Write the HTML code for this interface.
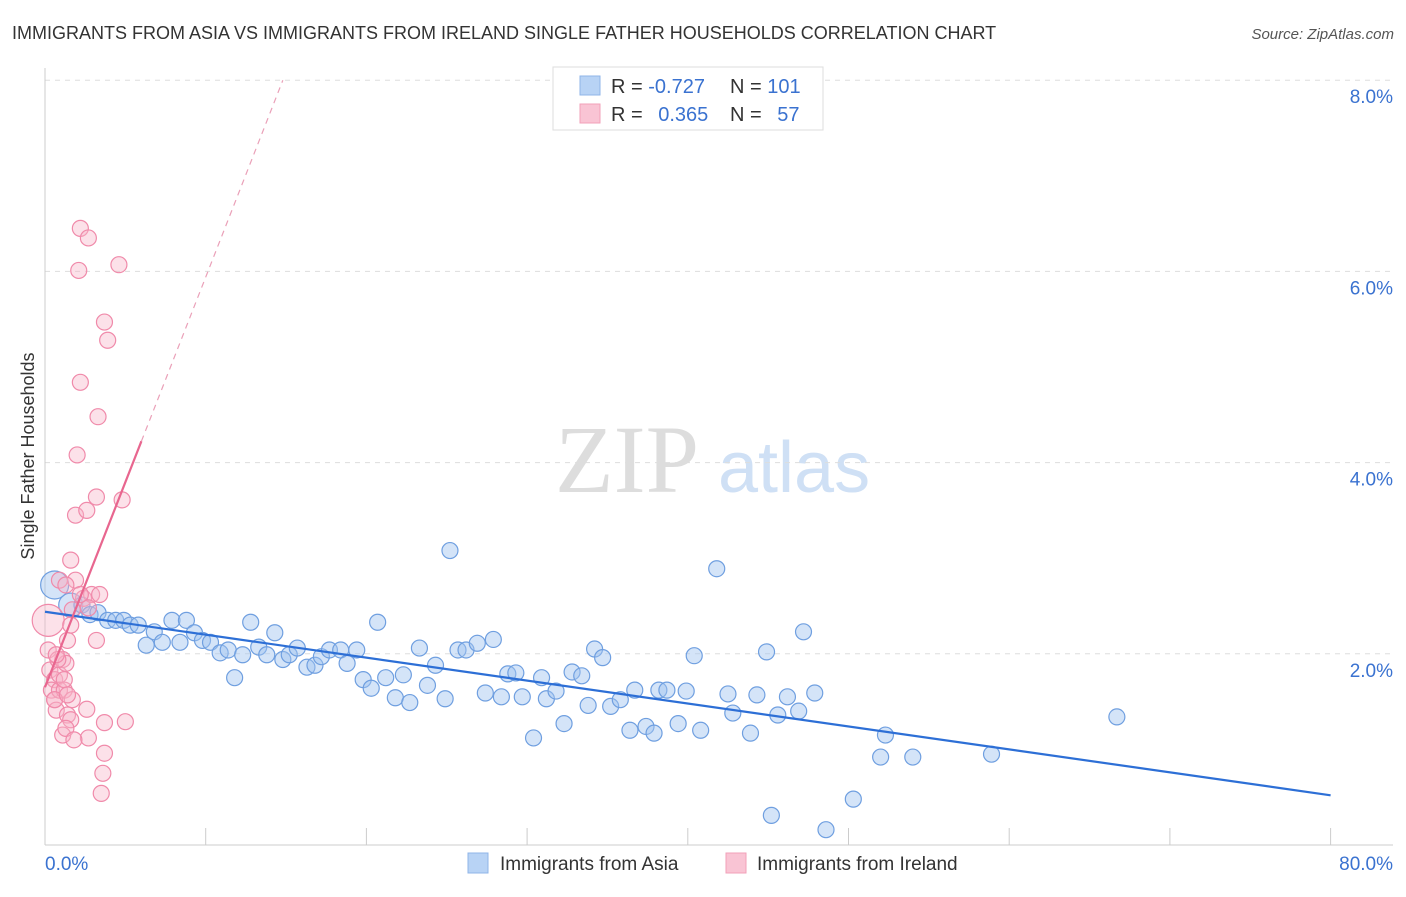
<!DOCTYPE html>
<html><head><meta charset="utf-8"><style>
body{margin:0;background:#fff;font-family:"Liberation Sans",sans-serif}
svg text{font-family:"Liberation Sans",sans-serif}
</style></head><body>
<svg id="chart" width="1406" height="892" xmlns="http://www.w3.org/2000/svg">
<text x="12" y="39" font-size="18" fill="#333">IMMIGRANTS FROM ASIA VS IMMIGRANTS FROM IRELAND SINGLE FATHER HOUSEHOLDS CORRELATION CHART</text>
<text x="1394" y="39" font-size="15" fill="#555" text-anchor="end" font-style="italic">Source: ZipAtlas.com</text>
<g>
<text x="555" y="492" font-size="96" fill="#ddd" font-family="Liberation Serif" style="font-family:'Liberation Serif',serif">ZIP</text>
<text x="718" y="492" font-size="72" fill="#cfe0f5">atlas</text>
</g>
<g id="grid"></g>
<g id="axes"></g>
<g id="marks"></g>
<text transform="translate(34,456) rotate(-90)" font-size="18" fill="#333" text-anchor="middle">Single Father Households</text>
<g>
<rect x="553" y="67" width="270" height="63" fill="#fff" stroke="#ddd"/>
<rect x="580" y="76" width="20" height="19" fill="#b8d3f5" stroke="#8fb5e8"/>
<rect x="580" y="104" width="20" height="19" fill="#f9c4d4" stroke="#f2a0b9"/>
<text x="611" y="93" font-size="20" fill="#333">R = <tspan fill="#3a72d0">-0.727</tspan></text>
<text x="730" y="93" font-size="20" fill="#333">N = <tspan fill="#3a72d0">101</tspan></text>
<text x="611" y="121" font-size="20" fill="#333">R = <tspan fill="#3a72d0" dx="10">0.365</tspan></text>
<text x="730" y="121" font-size="20" fill="#333">N = <tspan fill="#3a72d0" dx="10">57</tspan></text>
</g>
<g>
<rect x="468" y="853" width="20" height="20" fill="#b8d3f5" stroke="#8fb5e8"/>
<text x="500" y="870" font-size="19" fill="#333">Immigrants from Asia</text>
<rect x="726" y="853" width="20" height="20" fill="#f9c4d4" stroke="#f2a0b9"/>
<text x="757" y="870" font-size="19" fill="#333">Immigrants from Ireland</text>
</g>
</svg>
<script>
const yTicks=[2,4,6,8];
const yTickLabels=["2.0%","4.0%","6.0%","8.0%"];
const xTicks=[0,10,20,30,40,50,60,70,80];
const asiaX=[0.6,1.6,2.3,2.8,3.3,3.9,4.4,4.9,5.3,5.8,6.3,6.8,7.3,7.9,8.4,8.8,9.3,9.8,10.3,10.9,11.4,11.8,12.3,12.8,13.3,13.8,14.3,14.8,15.2,15.7,16.3,16.8,17.2,17.7,18.4,18.8,19.4,19.8,20.3,20.7,21.2,21.8,22.3,22.7,23.3,23.8,24.3,24.9,25.2,25.7,26.2,26.9,27.4,27.9,28.4,28.8,29.3,29.7,30.4,30.9,31.2,31.8,32.3,32.8,33.4,33.8,34.2,34.7,35.2,35.8,36.4,36.7,37.4,37.9,38.2,38.7,39.4,39.9,40.4,40.8,41.8,42.5,42.8,43.9,44.3,44.9,45.2,45.6,46.2,46.9,47.2,47.9,48.6,50.3,52.0,52.3,54.0,58.9,66.7];
const asiaY=[2.72,2.51,2.51,2.41,2.43,2.35,2.35,2.35,2.30,2.30,2.09,2.23,2.12,2.35,2.12,2.35,2.22,2.14,2.12,2.01,2.04,1.75,1.99,2.33,2.07,1.99,2.22,1.94,1.99,2.06,1.86,1.88,1.97,2.04,2.04,1.90,2.04,1.73,1.64,2.33,1.75,1.54,1.78,1.49,2.06,1.67,1.88,1.53,3.08,2.04,2.04,2.11,1.59,2.15,1.55,1.79,1.80,1.55,1.12,1.75,1.53,1.61,1.27,1.81,1.77,1.46,2.05,1.96,1.45,1.52,1.20,1.62,1.24,1.17,1.62,1.62,1.27,1.61,1.98,1.20,2.89,1.58,1.38,1.17,1.57,2.02,0.31,1.36,1.55,1.40,2.23,1.59,0.16,0.48,0.92,1.15,0.92,0.95,1.34];
const irelandX=[0.2,0.2,0.3,0.6,0.4,0.6,0.7,0.9,0.9,1.1,1.2,1.3,1.4,1.4,1.6,1.7,1.6,1.9,1.9,2.0,2.1,2.2,2.2,2.4,2.6,2.6,2.7,2.7,2.9,3.2,3.3,3.4,3.6,3.7,3.7,3.5,4.6,4.8,3.7,3.9,5.0,1.1,0.9,1.3,1.8,1.6,1.2,0.8,0.6,1.3,2.2,2.7,1.7,0.7,1.4,3.2];
const irelandY=[2.35,2.04,1.83,1.73,1.62,1.52,1.41,1.78,1.62,1.94,1.62,1.90,1.36,2.14,1.31,1.52,2.30,2.77,3.45,4.08,6.01,4.84,6.45,2.58,3.50,1.42,1.12,6.35,2.62,3.64,4.48,2.62,0.75,0.96,1.28,0.54,6.07,3.61,5.47,5.28,1.29,1.15,2.77,1.22,1.10,2.98,1.73,1.94,1.52,2.72,2.62,2.48,2.46,1.99,1.57,2.14];
const asiaTrend=[2.44,0.52];
const irelandTrend=[1.65,0.429];
const X=v=>45+v*16.07, Y=v=>845-v*95.6;
const NS="http://www.w3.org/2000/svg";
function mk(tag,attrs,parent){const e=document.createElementNS(NS,tag);for(const k in attrs)e.setAttribute(k,attrs[k]);document.getElementById(parent).appendChild(e);return e;}
yTicks.forEach((t,i)=>{
  const g=mk('line',{x1:45,x2:1393,y1:Y(t),y2:Y(t),stroke:'#ddd','stroke-dasharray':'5,5'},'grid');
  
  
  const l=mk('text',{x:1393,y:Y(t)+23,'font-size':19,fill:'#3a72d0','text-anchor':'end'},'axes');
  l.textContent=yTickLabels[i];
  
  
});
const ax=mk('line',{x1:45,x2:1393,y1:845,y2:845,stroke:'#ccc'},'axes');


const ay=mk('line',{x1:45,x2:45,y1:68,y2:845,stroke:'#ccc'},'axes');


xTicks.forEach(t=>{
  const tk=mk('line',{x1:X(t),x2:X(t),y1:828,y2:845,stroke:'#ccc'},'axes');
  
  
});
const xl0=mk('text',{x:45,y:870,'font-size':19,fill:'#3a72d0'},'axes');xl0.textContent='0.0%';


const xl1=mk('text',{x:1393,y:870,'font-size':19,fill:'#3a72d0','text-anchor':'end'},'axes');xl1.textContent='80.0%';


asiaX.forEach((x,i)=>{
  const r=i==0?14:(i==1?12:8);
  const c=mk('circle',{cx:X(x),cy:Y(asiaY[i]),r:r,fill:'rgba(160,195,240,0.45)',stroke:'#6f9fe0','stroke-width':1.2},'marks');
  
  
});
irelandX.forEach((x,i)=>{
  const r=i==0?16:8;
  const c=mk('circle',{cx:X(x),cy:Y(irelandY[i]),r:r,fill:'rgba(248,180,200,0.4)',stroke:'#f08aaa','stroke-width':1.2},'marks');
  
  
});
const bt=mk('line',{x1:X(0),y1:Y(asiaTrend[0]),x2:X(80),y2:Y(asiaTrend[1]),stroke:'#2d6fd6','stroke-width':2.2},'marks');


const pf=v=>irelandTrend[0]+irelandTrend[1]*v;
const pt=mk('line',{x1:X(0),y1:Y(pf(0)),x2:X(6),y2:Y(pf(6)),stroke:'#e8668f','stroke-width':2.2},'marks');


const pd=mk('line',{x1:X(6),y1:Y(pf(6)),x2:X(14.8),y2:Y(pf(14.8)),stroke:'#eaa0b8','stroke-width':1.2,'stroke-dasharray':'6,5'},'marks');


</script>
</body></html>
